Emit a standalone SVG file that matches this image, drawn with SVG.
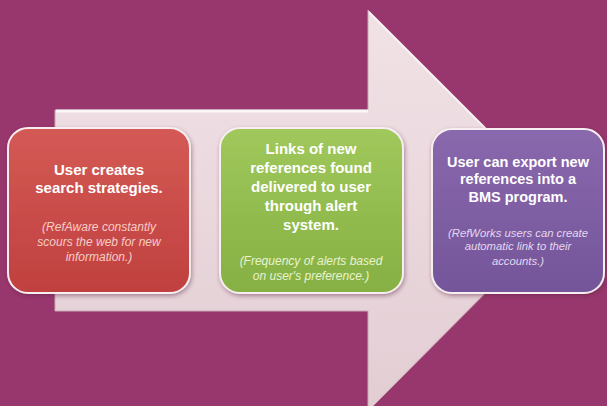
<svg xmlns="http://www.w3.org/2000/svg" width="607" height="406" viewBox="0 0 607 406">
<style>
.t{font-family:"Liberation Sans",Arial,sans-serif;font-weight:bold;font-size:15px;fill:#ffffff;text-anchor:middle}
.tp{font-size:14.5px}
.s{font-family:"Liberation Sans",Arial,sans-serif;font-style:italic;font-size:12px;text-anchor:middle}
.sp{font-size:11.3px}
.box{stroke:#f6eef0;stroke-width:2;filter:url(#sh)}
</style>
<defs>
<linearGradient id="arr" x1="0" y1="0" x2="0" y2="1">
<stop offset="0" stop-color="#f1e2e6"/>
<stop offset="1" stop-color="#e2cdd3"/>
</linearGradient>
<linearGradient id="gr" x1="0" y1="0" x2="0" y2="1">
<stop offset="0" stop-color="#d45a55"/>
<stop offset="1" stop-color="#c0403f"/>
</linearGradient>
<linearGradient id="gg" x1="0" y1="0" x2="0" y2="1">
<stop offset="0" stop-color="#a0c85c"/>
<stop offset="1" stop-color="#86b043"/>
</linearGradient>
<linearGradient id="gp" x1="0" y1="0" x2="0" y2="1">
<stop offset="0" stop-color="#8a68ad"/>
<stop offset="1" stop-color="#74559a"/>
</linearGradient>
<filter id="sh" x="-10%" y="-10%" width="120%" height="125%">
<feDropShadow dx="1" dy="2" stdDeviation="2" flood-color="#5a2040" flood-opacity="0.45"/>
</filter>
</defs>
<rect x="0" y="0" width="607" height="406" fill="#98376d"/>
<g id="connectors">
<path d="M55 110 H368 V10 L568 210 L368 411 V311 H55 Z" fill="url(#arr)" stroke="#c9a9b6" stroke-width="1"/>
<path d="M56 111 H368" stroke="#ffffff" stroke-width="3" fill="none" opacity="0.8"/>
<path d="M369 12 L566 209" stroke="#ffffff" stroke-width="2" fill="none" opacity="0.6"/>
</g>
<g id="node-create">
<rect class="box" x="8" y="128" width="182" height="165" rx="20" fill="url(#gr)"/>
<text class="t" x="99" y="175">User creates</text>
<text class="t" x="99" y="193">search strategies.</text>
<text class="s" x="99" y="231" fill="#f6cdc8">(RefAware constantly</text>
<text class="s" x="99" y="246" fill="#f6cdc8">scours the web for new</text>
<text class="s" x="99" y="261" fill="#f6cdc8">information.)</text>
</g>
<g id="node-alert">
<rect class="box" x="220" y="128" width="183" height="165" rx="20" fill="url(#gg)"/>
<text class="t" x="311" y="154">Links of new</text>
<text class="t" x="311" y="173">references found</text>
<text class="t" x="311" y="192">delivered to user</text>
<text class="t" x="311" y="211">through alert</text>
<text class="t" x="311" y="230">system.</text>
<text class="s" x="311" y="265" fill="#e9f3cf">(Frequency of alerts based</text>
<text class="s" x="311" y="280" fill="#e9f3cf">on user's preference.)</text>
</g>
<g id="node-export">
<rect class="box" x="432" y="129" width="172" height="164" rx="20" fill="url(#gp)"/>
<text class="t tp" x="518" y="167">User can export new</text>
<text class="t tp" x="518" y="184">references into a</text>
<text class="t tp" x="518" y="202">BMS program.</text>
<text class="s sp" x="518" y="237" fill="#e2d8ef">(RefWorks users can create</text>
<text class="s sp" x="518" y="250" fill="#e2d8ef">automatic link to their</text>
<text class="s sp" x="518" y="265" fill="#e2d8ef">accounts.)</text>
</g>
</svg>
